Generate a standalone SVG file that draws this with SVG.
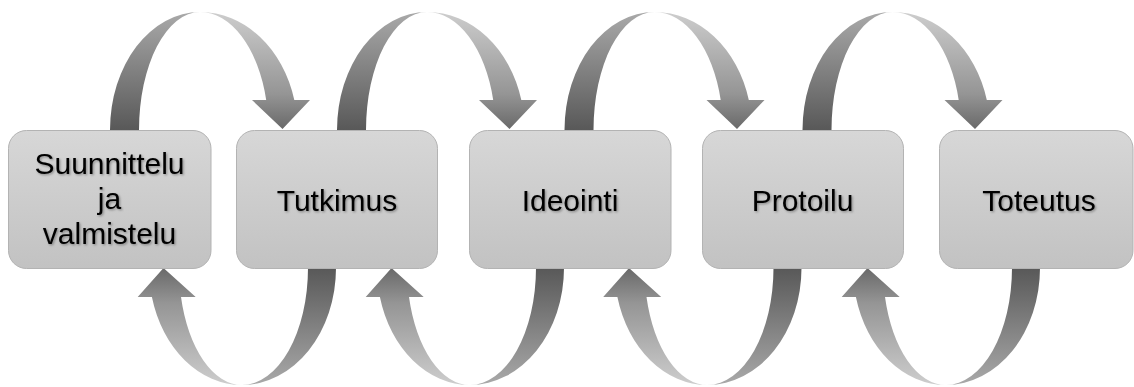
<svg xmlns="http://www.w3.org/2000/svg" width="1134" height="387" viewBox="0 0 1134 387">
  <defs>
    <linearGradient id="boxFill" x1="0" y1="0" x2="0" y2="1">
      <stop offset="0" stop-color="#d7d7d7"/>
      <stop offset="1" stop-color="#c2c2c2"/>
    </linearGradient>
    <linearGradient id="darkUp" x1="0" y1="1" x2="0" y2="0">
      <stop offset="0" stop-color="#575757"/>
      <stop offset="1" stop-color="#a9a9a9"/>
    </linearGradient>
    <linearGradient id="darkDown" x1="0" y1="0" x2="0" y2="1">
      <stop offset="0" stop-color="#575757"/>
      <stop offset="1" stop-color="#a9a9a9"/>
    </linearGradient>
    <linearGradient id="lightDown" x1="0" y1="0" x2="0" y2="1">
      <stop offset="0" stop-color="#cdcdcd"/>
      <stop offset="0.7" stop-color="#959595"/>
      <stop offset="1" stop-color="#696969"/>
    </linearGradient>
    <linearGradient id="lightUp" x1="0" y1="1" x2="0" y2="0">
      <stop offset="0" stop-color="#cdcdcd"/>
      <stop offset="0.7" stop-color="#959595"/>
      <stop offset="1" stop-color="#696969"/>
    </linearGradient>
    <filter id="ts" x="-10%" y="-30%" width="120%" height="160%">
      <feDropShadow dx="1.2" dy="1.2" stdDeviation="1" flood-color="#000" flood-opacity="0.35"/>
    </filter>
    <g id="topArrow">
      <path fill="url(#darkUp)" d="M110,132 L110,130 A90,118 0 0 1 200,12 A61,118 0 0 0 139,130 L139,132 Z"/>
      <path fill="url(#lightDown)" d="M200,12 A97.5,118 0 0 1 294.3,100 L310,100 L282.5,129 L252,100 L266.2,100 A68.5,118 0 0 0 200,12 Z"/>
    </g>
    <g id="bottomArrow">
      <path fill="url(#darkDown)" d="M336,266 L336,268 A94,117 0 0 1 242,385 A66,117 0 0 0 308,268 L308,266 Z"/>
      <path fill="url(#lightUp)" d="M242,385 A93,117 0 0 1 151.9,297 L137.7,297 L163.5,268 L195.7,297 L181,297 A63,117 0 0 0 242,385 Z"/>
    </g>
  </defs>
  <style>
    .box { fill: url(#boxFill); stroke: #b3b3b3; stroke-width: 1; }
    .lbl { font-family: "Liberation Sans", Arial, sans-serif; font-size: 30px; fill: #000; text-anchor: middle; filter: url(#ts); }
  </style>
  <rect width="1134" height="387" fill="#ffffff"/>

  <g id="connectors">
    <use href="#topArrow"/>
    <use href="#topArrow" transform="translate(227,0)"/>
    <use href="#topArrow" transform="translate(454.5,0)"/>
    <use href="#topArrow" transform="translate(692.5,0)"/>
    <use href="#bottomArrow"/>
    <use href="#bottomArrow" transform="translate(228,0)"/>
    <use href="#bottomArrow" transform="translate(465.5,0)"/>
    <use href="#bottomArrow" transform="translate(704,0)"/>
  </g>

  <g id="node-suunnittelu">
    <rect class="box" x="8.5" y="130.5" width="202.5" height="138" rx="18"/>
    <text class="lbl" x="109.5" y="174">Suunnittelu</text>
    <text class="lbl" x="109.5" y="209">ja</text>
    <text class="lbl" x="109.5" y="244">valmistelu</text>
  </g>
  <g id="node-tutkimus">
    <rect class="box" x="236.5" y="130.5" width="201" height="138" rx="18"/>
    <text class="lbl" x="337" y="211">Tutkimus</text>
  </g>
  <g id="node-ideointi">
    <rect class="box" x="469.5" y="130.5" width="201.5" height="138" rx="18"/>
    <text class="lbl" x="570" y="211">Ideointi</text>
  </g>
  <g id="node-protoilu">
    <rect class="box" x="702.5" y="130.5" width="201" height="138" rx="18"/>
    <text class="lbl" x="802.5" y="211">Protoilu</text>
  </g>
  <g id="node-toteutus">
    <rect class="box" x="939.5" y="130.5" width="193.5" height="138" rx="18"/>
    <text class="lbl" x="1039" y="211">Toteutus</text>
  </g>
</svg>
